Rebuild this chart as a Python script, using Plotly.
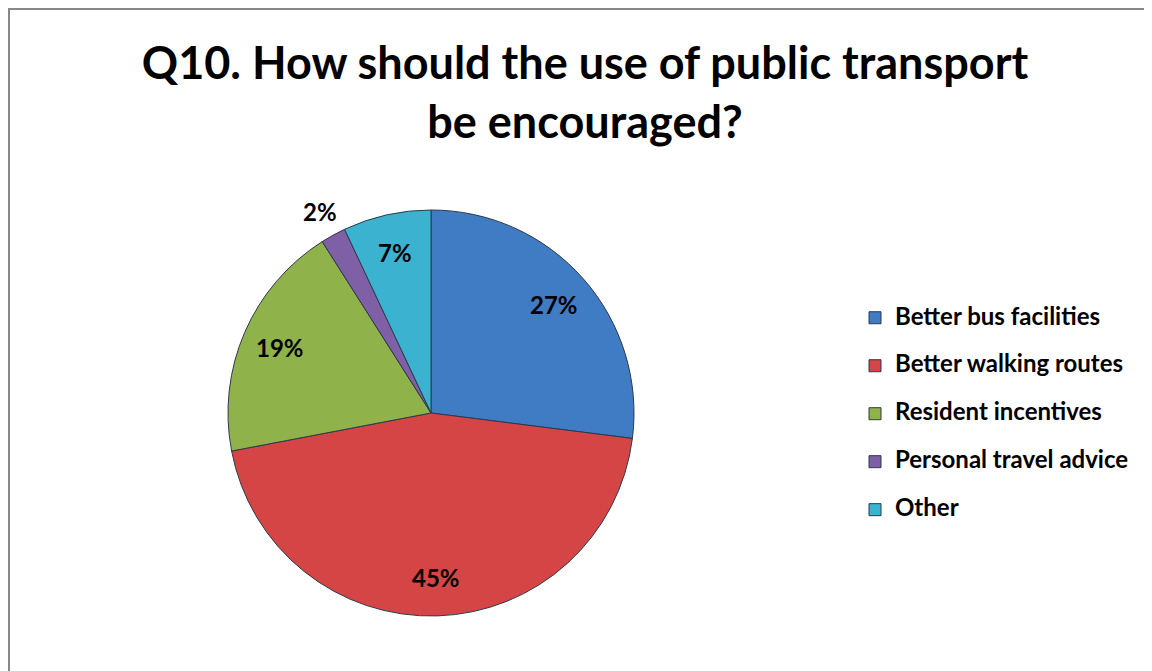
import math
import plotly.graph_objects as go

categories = ["Better bus facilities", "Better walking routes", "Resident incentives",
              "Personal travel advice", "Other"]
values = [27, 45, 19, 2, 7]
colors = ["#3F7CC4", "#D64545", "#8FB34A", "#7F5FA6", "#3BB3D0"]

# figure is placed inside the page body (8px default margin)
W, H = 1144, 663
FONT = "Lato"

# pie geometry (pixels in figure space)
PX0, PX1 = 220, 626
PY_TOP, PY_BOT = 202, 608
dom_x = [PX0 / W, PX1 / W]
dom_y = [(H - PY_BOT) / H, (H - PY_TOP) / H]

LEG_FS = 17.3   # controls legend line spacing
LBL_FS = 24     # visible legend text size

legend_labels = [f"<span style='font-size:{LBL_FS}px'>{c}</span><br> " for c in categories]

fig = go.Figure()
fig.add_trace(go.Pie(
    labels=legend_labels,
    values=values,
    sort=False,
    direction="clockwise",
    rotation=0,
    marker=dict(colors=colors, line=dict(color="#2b3a4a", width=1)),
    textinfo="none",
    domain=dict(x=dom_x, y=dom_y),
    showlegend=True,
    customdata=categories,
    hovertemplate="%{customdata}: %{percent}<extra></extra>",
))

# percentage labels placed along each slice's bisector (derived from the values)
total = sum(values)
cx = (dom_x[0] + dom_x[1]) / 2
cy = (dom_y[0] + dom_y[1]) / 2
r_px = (PX1 - PX0) / 2
annotations = []
cum = 0
for v in values:
    mid = (cum + v / 2) / total * 2 * math.pi
    cum += v
    frac = 0.81 if v / total >= 0.05 else 1.13
    dx = math.sin(mid) * r_px * frac
    dy = math.cos(mid) * r_px * frac
    annotations.append(dict(
        x=cx + dx / W, y=cy + dy / H, xref="paper", yref="paper",
        text=f"{round(v / total * 100)}%", showarrow=False,
        font=dict(family=FONT, size=24, color="black", weight="bold"),
        xanchor="center", yanchor="middle",
    ))

fig.update_layout(
    width=W, height=H,
    margin=dict(l=0, r=0, t=0, b=0),
    paper_bgcolor="white",
    plot_bgcolor="white",
    title=dict(
        text="Q10. How should the use of public transport<br>be encouraged?",
        x=577 / W, xanchor="center",
        y=(H - 71) / H, yanchor="middle",
        font=dict(family=FONT, size=45, color="black", weight="bold"),
    ),
    legend=dict(
        x=847 / W, xanchor="left",
        y=(H - 292) / H, yanchor="top",
        valign="top",
        font=dict(family=FONT, size=LEG_FS, color="black", weight="bold"),
        bgcolor="rgba(0,0,0,0)",
    ),
    annotations=annotations,
    shapes=[dict(
        type="rect", xref="paper", yref="paper",
        x0=1 / W, x1=1.05, y0=-0.05, y1=1 - 1 / H,
        line=dict(color="#888888", width=2),
        fillcolor="rgba(0,0,0,0)", layer="below",
    )],
)

fig.write_html("out.html")
